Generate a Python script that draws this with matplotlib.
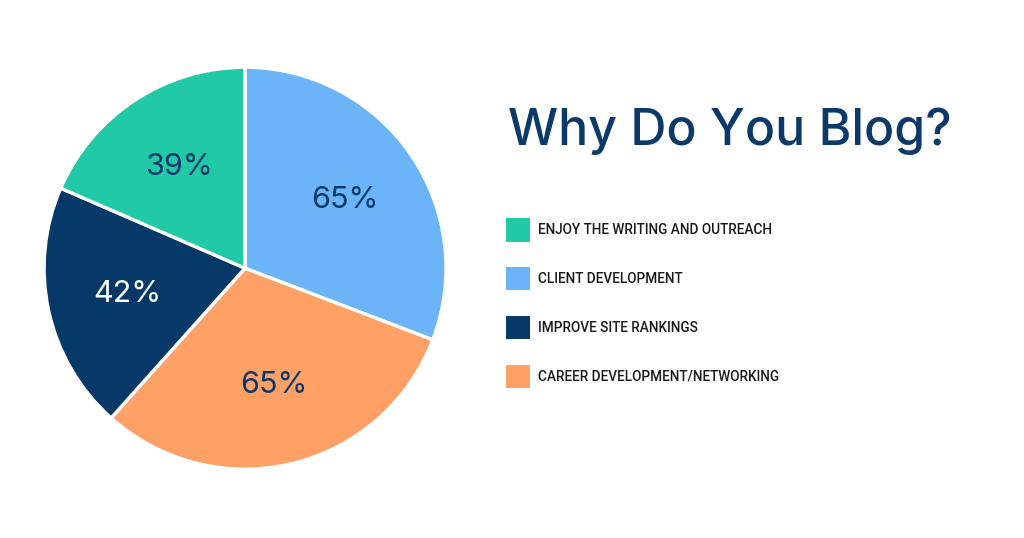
import matplotlib.pyplot as plt

# legend order
labels = ['ENJOY THE WRITING AND OUTREACH', 'CLIENT DEVELOPMENT',
          'IMPROVE SITE RANKINGS', 'CAREER DEVELOPMENT/NETWORKING']
values = [39, 65, 42, 65]
colors = ['#22c9a6', '#6cb4f8', '#073968', '#ffa066']
pct_colors = ['#0b3a6a', '#0b3a6a', '#ffffff', '#0b3a6a']

# pie goes clockwise from 12 o'clock: client, career, rankings, enjoy
pie_order = [1, 3, 2, 0]

plt.rcParams['font.family'] = ['Inter', 'DejaVu Sans']

fig = plt.figure(figsize=(10.24, 5.38), dpi=100)
fig.patch.set_facecolor('white')

ax = fig.add_axes([0.043, 0.128, 0.3926, 0.747])
vals = [values[i] for i in pie_order]
total = sum(values)
wedges, texts, autotexts = ax.pie(
    vals, colors=[colors[i] for i in pie_order], startangle=90, counterclock=False,
    autopct=lambda p: f'{round(p * total / 100)}%', pctdistance=0.6,
    wedgeprops=dict(edgecolor='white', linewidth=2.4),
    textprops=dict(fontsize=22))
for t, i in zip(autotexts, pie_order):
    t.set_color(pct_colors[i])
ax.set_xlim(-1.0, 1.0)
ax.set_ylim(-1.0, 1.0)
ax.set_aspect('equal')

fig.text(508 / 1024, 1 - 145 / 538, 'Why Do You Blog?', fontsize=36,
         fontweight='medium', color='#0b3a6a', va='baseline', ha='left')

# legend handles in legend order
handles = [wedges[pie_order.index(k)] for k in range(len(labels))]
leg = fig.legend(handles, labels, loc='upper left',
                 bbox_to_anchor=(506 / 1024, 1 - 218 / 538), bbox_transform=fig.transFigure,
                 frameon=False, borderpad=0, borderaxespad=0,
                 handlelength=1.73, handleheight=2.28, handletextpad=0.65,
                 labelspacing=1.87,
                 prop=dict(family=['Roboto', 'DejaVu Sans'], size=9.8, weight='medium'))
for h, c in zip(leg.legend_handles, colors):
    h.set_edgecolor(c)
    h.set_linewidth(0)
for t in leg.get_texts():
    t.set_color('#1a1a1a')

fig.savefig('out.png', dpi=100)
